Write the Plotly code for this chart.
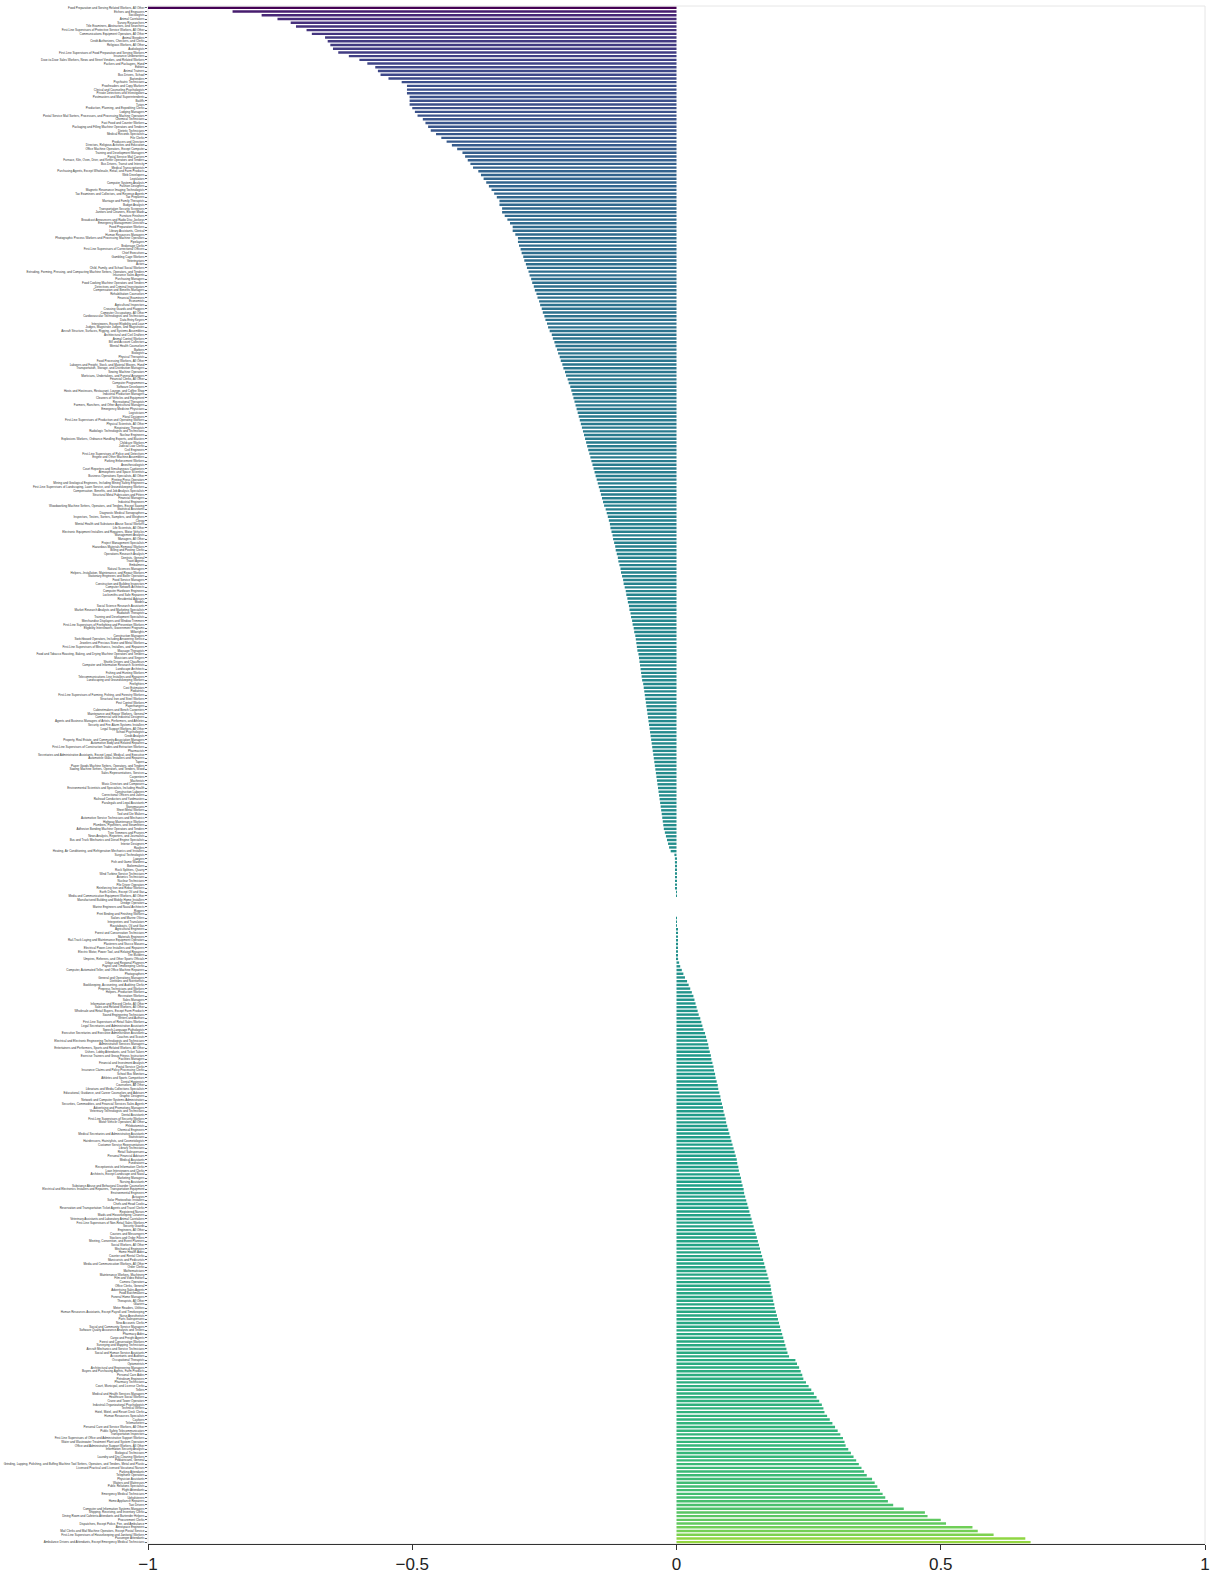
import plotly.graph_objects as go

occupations = [
    # block 1
    "Food Preparation and Serving Related Workers, All Other", "Etchers and Engravers", "Sociologists",
    "Animal Caretakers", "Survey Researchers", "Title Examiners, Abstractors, and Searchers",
    "First-Line Supervisors of Protective Service Workers, All Other", "Communications Equipment Operators, All Other",
    "Animal Breeders", "Credit Authorizers, Checkers, and Clerks", "Religious Workers, All Other", "Audiologists",
    "First-Line Supervisors of Food Preparation and Serving Workers", "Insurance Underwriters",
    "Door-to-Door Sales Workers, News and Street Vendors, and Related Workers", "Packers and Packagers, Hand",
    "Editors", "Animal Trainers", "Bus Drivers, School", "Bartenders", "Psychiatric Technicians",
    "Proofreaders and Copy Markers", "Clinical and Counseling Psychologists", "Private Detectives and Investigators",
    "Postmasters and Mail Superintendents", "Bailiffs", "Tutors", "Production, Planning, and Expediting Clerks",
    "Lodging Managers", "Postal Service Mail Sorters, Processors, and Processing Machine Operators",
    "Chemical Technicians", "Fast Food and Counter Workers", "Packaging and Filling Machine Operators and Tenders",
    "Dietetic Technicians",
    # block 2
    "Medical Records Specialists", "File Clerks", "Producers and Directors",
    "Directors, Religious Activities and Education", "Office Machine Operators, Except Computer",
    "Training and Development Managers", "Postal Service Mail Carriers",
    "Furnace, Kiln, Oven, Drier, and Kettle Operators and Tenders", "Bus Drivers, Transit and Intercity",
    "Medical Transcriptionists", "Purchasing Agents, Except Wholesale, Retail, and Farm Products",
    "Web Developers", "Legislators", "Computer Systems Analysts", "Fashion Designers",
    "Magnetic Resonance Imaging Technologists", "Tax Examiners and Collectors, and Revenue Agents",
    "Tax Preparers", "Marriage and Family Therapists", "Budget Analysts", "Transportation Security Screeners",
    "Janitors and Cleaners, Except Maids", "Furniture Finishers", "Broadcast Announcers and Radio Disc Jockeys",
    "Emergency Management Directors", "Food Preparation Workers", "Library Assistants, Clerical",
    "Human Resources Managers", "Photographic Process Workers and Processing Machine Operators",
    "Pipelayers", "Brokerage Clerks", "First-Line Supervisors of Correctional Officers", "Chief Executives",
    "Gambling Cage Workers",
    # block 3
    "Veterinarians", "Actors", "Child, Family, and School Social Workers",
    "Extruding, Forming, Pressing, and Compacting Machine Setters, Operators, and Tenders",
    "Insurance Sales Agents", "Purchasing Managers", "Food Cooking Machine Operators and Tenders",
    "Detectives and Criminal Investigators", "Compensation and Benefits Managers", "Rehabilitation Counselors",
    "Financial Examiners", "Economists", "Agricultural Inspectors", "Crossing Guards and Flaggers",
    "Computer Occupations, All Other", "Cardiovascular Technologists and Technicians", "Data Entry Keyers",
    "Interviewers, Except Eligibility and Loan", "Judges, Magistrate Judges, and Magistrates",
    "Aircraft Structure, Surfaces, Rigging, and Systems Assemblers", "Architectural and Civil Drafters",
    "Animal Control Workers", "Bill and Account Collectors", "Mental Health Counselors", "Barbers",
    "Biologists", "Physical Therapists", "Food Processing Workers, All Other",
    "Laborers and Freight, Stock, and Material Movers, Hand", "Transportation, Storage, and Distribution Managers",
    "Sewing Machine Operators", "Morticians, Undertakers, and Funeral Arrangers", "Financial Clerks, All Other",
    "Computer Programmers", "Software Developers",
    # block 4
    "Hosts and Hostesses, Restaurant, Lounge, and Coffee Shop", "Industrial Production Managers",
    "Cleaners of Vehicles and Equipment", "Recreational Therapists",
    "Farmers, Ranchers, and Other Agricultural Managers", "Emergency Medicine Physicians", "Logisticians",
    "Floral Designers", "First-Line Supervisors of Production and Operating Workers",
    "Physical Scientists, All Other", "Respiratory Therapists", "Radiologic Technologists and Technicians",
    "Nuclear Engineers", "Explosives Workers, Ordnance Handling Experts, and Blasters", "Childcare Workers",
    "Judicial Law Clerks", "Civil Engineers", "First-Line Supervisors of Police and Detectives",
    "Engine and Other Machine Assemblers", "Parking Enforcement Workers", "Anesthesiologists",
    "Court Reporters and Simultaneous Captioners", "Atmospheric and Space Scientists",
    "Business Operations Specialists, All Other", "Printing Press Operators",
    "Mining and Geological Engineers, Including Mining Safety Engineers",
    "First-Line Supervisors of Landscaping, Lawn Service, and Groundskeeping Workers",
    "Compensation, Benefits, and Job Analysis Specialists", "Structural Metal Fabricators and Fitters",
    "Financial Managers", "Industrial Engineers",
    "Woodworking Machine Setters, Operators, and Tenders, Except Sawing", "Statistical Assistants",
    "Diagnostic Medical Sonographers",
    # block 5
    "Inspectors, Testers, Sorters, Samplers, and Weighers", "Clergy",
    "Mental Health and Substance Abuse Social Workers", "Life Scientists, All Other",
    "Electronic Equipment Installers and Repairers, Motor Vehicles", "Management Analysts",
    "Managers, All Other", "Project Management Specialists", "Hazardous Materials Removal Workers",
    "Billing and Posting Clerks", "Operations Research Analysts", "Dentists, General", "Travel Agents",
    "Embalmers", "Natural Sciences Managers", "Helpers--Installation, Maintenance, and Repair Workers",
    "Stationary Engineers and Boiler Operators", "Food Service Managers",
    "Construction and Building Inspectors", "Computer Network Architects", "Computer Hardware Engineers",
    "Locksmiths and Safe Repairers", "Residential Advisors", "Models", "Social Science Research Assistants",
    "Market Research Analysts and Marketing Specialists", "Radiation Therapists",
    "Training and Development Specialists", "Merchandise Displayers and Window Trimmers",
    "First-Line Supervisors of Firefighting and Prevention Workers",
    "Eligibility Interviewers, Government Programs", "Millwrights", "Construction Managers",
    "Switchboard Operators, Including Answering Service", "Jewelers and Precious Stone and Metal Workers",
    # block 6
    "First-Line Supervisors of Mechanics, Installers, and Repairers", "Massage Therapists",
    "Food and Tobacco Roasting, Baking, and Drying Machine Operators and Tenders", "Musicians and Singers",
    "Shuttle Drivers and Chauffeurs", "Computer and Information Research Scientists", "Landscape Architects",
    "Fishing and Hunting Workers", "Telecommunications Line Installers and Repairers",
    "Landscaping and Groundskeeping Workers", "Firefighters", "Cost Estimators", "Podiatrists",
    "First-Line Supervisors of Farming, Fishing, and Forestry Workers", "Structural Iron and Steel Workers",
    "Pest Control Workers", "Paperhangers", "Cabinetmakers and Bench Carpenters",
    "Maintenance and Repair Workers, General", "Commercial and Industrial Designers",
    "Agents and Business Managers of Artists, Performers, and Athletes",
    "Security and Fire Alarm Systems Installers", "Legal Support Workers, All Other", "School Psychologists",
    "Credit Analysts", "Property, Real Estate, and Community Association Managers",
    "Automotive Body and Related Repairers",
    "First-Line Supervisors of Construction Trades and Extraction Workers", "Pharmacists",
    "Secretaries and Administrative Assistants, Except Legal, Medical, and Executive",
    "Automotive Glass Installers and Repairers", "Tapers", "Paper Goods Machine Setters, Operators, and Tenders",
    "Sawing Machine Setters, Operators, and Tenders, Wood", "Sales Representatives, Services",
    # block 7
    "Carpenters", "Machinists", "Music Directors and Composers",
    "Environmental Scientists and Specialists, Including Health", "Construction Laborers",
    "Correctional Officers and Jailers", "Railroad Conductors and Yardmasters", "Paralegals and Legal Assistants",
    "Stonemasons", "Sheet Metal Workers", "Tool and Die Makers", "Automotive Service Technicians and Mechanics",
    "Highway Maintenance Workers", "Plumbers, Pipefitters, and Steamfitters",
    "Adhesive Bonding Machine Operators and Tenders", "Tree Trimmers and Pruners",
    "News Analysts, Reporters, and Journalists", "Bus and Truck Mechanics and Diesel Engine Specialists",
    "Interior Designers", "Roofers", "Heating, Air Conditioning, and Refrigeration Mechanics and Installers",
    "Surgical Technologists", "Lawyers", "Fish and Game Wardens", "Boilermakers", "Rock Splitters, Quarry",
    "Wind Turbine Service Technicians", "Avionics Technicians", "Nuclear Technicians", "Pile Driver Operators",
    "Reinforcing Iron and Rebar Workers", "Earth Drillers, Except Oil and Gas",
    "Media and Communication Equipment Workers, All Other", "Manufactured Building and Mobile Home Installers",
    # block 8
    "Dredge Operators", "Marine Engineers and Naval Architects", "Riggers", "Print Binding and Finishing Workers",
    "Sailors and Marine Oilers", "Interpreters and Translators", "Roustabouts, Oil and Gas",
    "Agricultural Engineers", "Forest and Conservation Technicians", "Materials Engineers",
    "Rail-Track Laying and Maintenance Equipment Operators", "Plasterers and Stucco Masons",
    "Electrical Power-Line Installers and Repairers", "Electric Motor, Power Tool, and Related Repairers",
    "Tire Builders", "Umpires, Referees, and Other Sports Officials", "Urban and Regional Planners",
    "Payroll and Timekeeping Clerks", "Computer, Automated Teller, and Office Machine Repairers",
    "Photographers", "General and Operations Managers", "Dietitians and Nutritionists",
    "Bookkeeping, Accounting, and Auditing Clerks", "Prepress Technicians and Workers",
    "Helpers--Production Workers", "Recreation Workers", "Sales Managers",
    "Information and Record Clerks, All Other", "Sales and Related Workers, All Other",
    "Wholesale and Retail Buyers, Except Farm Products", "Sound Engineering Technicians", "Writers and Authors",
    "First-Line Supervisors of Retail Sales Workers", "Legal Secretaries and Administrative Assistants",
    "Speech-Language Pathologists",
    # block 9
    "Executive Secretaries and Executive Administrative Assistants", "Coaches and Scouts",
    "Electrical and Electronic Engineering Technologists and Technicians", "Administrative Services Managers",
    "Entertainers and Performers, Sports and Related Workers, All Other",
    "Ushers, Lobby Attendants, and Ticket Takers", "Exercise Trainers and Group Fitness Instructors",
    "Facilities Managers", "Financial and Investment Analysts", "Postal Service Clerks",
    "Insurance Claims and Policy Processing Clerks", "School Bus Monitors", "Athletes and Sports Competitors",
    "Dental Hygienists", "Counselors, All Other", "Librarians and Media Collections Specialists",
    "Educational, Guidance, and Career Counselors and Advisors", "Graphic Designers",
    "Network and Computer Systems Administrators",
    "Securities, Commodities, and Financial Services Sales Agents", "Advertising and Promotions Managers",
    "Veterinary Technologists and Technicians", "Dental Assistants", "First-Line Supervisors of Security Workers",
    "Motor Vehicle Operators, All Other", "Phlebotomists", "Chemical Engineers",
    "Medical Secretaries and Administrative Assistants", "Statisticians",
    "Hairdressers, Hairstylists, and Cosmetologists", "Customer Service Representatives", "Library Technicians",
    "Retail Salespersons", "Personal Financial Advisors",
    # block 10
    "Medical Assistants", "Fundraisers", "Receptionists and Information Clerks", "Loan Interviewers and Clerks",
    "Architects, Except Landscape and Naval", "Marketing Managers", "Nursing Assistants",
    "Substance Abuse and Behavioral Disorder Counselors",
    "Electrical and Electronics Installers and Repairers, Transportation Equipment", "Environmental Engineers",
    "Actuaries", "Solar Photovoltaic Installers", "Chefs and Head Cooks",
    "Reservation and Transportation Ticket Agents and Travel Clerks", "Registered Nurses",
    "Maids and Housekeeping Cleaners", "Veterinary Assistants and Laboratory Animal Caretakers",
    "First-Line Supervisors of Non-Retail Sales Workers", "Security Guards", "Engineers, All Other",
    "Couriers and Messengers", "Stockers and Order Fillers", "Meeting, Convention, and Event Planners",
    "Social Workers, All Other", "Mechanical Engineers", "Home Health Aides", "Counter and Rental Clerks",
    "Manicurists and Pedicurists", "Media and Communication Workers, All Other", "Order Clerks",
    "Mathematicians", "Maintenance Workers, Machinery", "Film and Video Editors", "Camera Operators",
    # block 11
    "Office Clerks, General", "Advertising Sales Agents", "Food Batchmakers", "Funeral Home Managers",
    "Therapists, All Other", "Glaziers", "Meter Readers, Utilities",
    "Human Resources Assistants, Except Payroll and Timekeeping", "Nurse Anesthetists", "Parts Salespersons",
    "New Accounts Clerks", "Social and Community Service Managers",
    "Software Quality Assurance Analysts and Testers", "Pharmacy Aides", "Cargo and Freight Agents",
    "Forest and Conservation Workers", "Surveying and Mapping Technicians",
    "Aircraft Mechanics and Service Technicians", "Social and Human Service Assistants",
    "Accountants and Auditors", "Occupational Therapists", "Optometrists",
    "Architectural and Engineering Managers", "Buyers and Purchasing Agents, Farm Products",
    "Personal Care Aides", "Petroleum Engineers", "Pharmacy Technicians",
    "Court, Municipal, and License Clerks", "Tellers", "Medical and Health Services Managers",
    "Healthcare Social Workers", "Crane and Tower Operators", "Industrial-Organizational Psychologists",
    "Technical Writers", "Hotel, Motel, and Resort Desk Clerks",
    # block 12
    "Human Resources Specialists", "Cashiers", "Telemarketers", "Personal Care and Service Workers, All Other",
    "Public Safety Telecommunicators", "Transportation Inspectors",
    "First-Line Supervisors of Office and Administrative Support Workers",
    "Water and Wastewater Treatment Plant and System Operators",
    "Office and Administrative Support Workers, All Other", "Information Security Analysts",
    "Biological Technicians", "Laundry and Dry-Cleaning Workers", "Pediatricians, General",
    "Grinding, Lapping, Polishing, and Buffing Machine Tool Setters, Operators, and Tenders, Metal and Plastic",
    "Licensed Practical and Licensed Vocational Nurses", "Parking Attendants", "Telephone Operators",
    "Physician Assistants", "Waiters and Waitresses", "Public Relations Specialists", "Flight Attendants",
    "Emergency Medical Technicians", "Upholsterers", "Home Appliance Repairers", "Taxi Drivers",
    "Computer and Information Systems Managers", "Shipping, Receiving, and Inventory Clerks",
    "Dining Room and Cafeteria Attendants and Bartender Helpers", "Procurement Clerks",
    "Dispatchers, Except Police, Fire, and Ambulance", "Aerospace Engineers",
    "Mail Clerks and Mail Machine Operators, Except Postal Service",
    "First-Line Supervisors of Housekeeping and Janitorial Workers", "Passenger Attendants",
    "Ambulance Drivers and Attendants, Except Emergency Medical Technicians",
]

change = [
    # block 1
    -1.00, -0.84, -0.785, -0.755, -0.73, -0.72, -0.70, -0.69, -0.665, -0.66, -0.655, -0.65, -0.64, -0.62,
    -0.60, -0.585, -0.57, -0.565, -0.56, -0.545, -0.52, -0.51, -0.51, -0.51, -0.505, -0.505, -0.505, -0.50,
    -0.495, -0.49, -0.48, -0.475, -0.47, -0.465,
    # block 2
    -0.455, -0.445, -0.435, -0.425, -0.415, -0.405, -0.40, -0.395, -0.39, -0.385, -0.375, -0.37, -0.365,
    -0.36, -0.355, -0.35, -0.345, -0.34, -0.335, -0.335, -0.33, -0.33, -0.325, -0.32, -0.315, -0.31,
    -0.31, -0.305, -0.30, -0.30, -0.298, -0.295, -0.293, -0.29,
    # block 3
    -0.288, -0.285, -0.283, -0.28, -0.278, -0.275, -0.273, -0.27, -0.268, -0.265, -0.263, -0.26, -0.258,
    -0.255, -0.253, -0.25, -0.248, -0.245, -0.243, -0.24, -0.236, -0.234, -0.231, -0.229, -0.226, -0.224,
    -0.221, -0.219, -0.216, -0.214, -0.211, -0.209, -0.206, -0.204, -0.201,
    # block 4
    -0.199, -0.197, -0.195, -0.193, -0.191, -0.189, -0.187, -0.185, -0.183, -0.181, -0.179, -0.177, -0.175,
    -0.173, -0.171, -0.169, -0.167, -0.165, -0.163, -0.161, -0.159, -0.157, -0.155, -0.153, -0.151, -0.149,
    -0.147, -0.145, -0.143, -0.141, -0.139, -0.137, -0.134, -0.132,
    # block 5
    -0.130, -0.128, -0.126, -0.125, -0.123, -0.121, -0.12, -0.118, -0.116, -0.115, -0.113, -0.111, -0.11,
    -0.108, -0.106, -0.105, -0.103, -0.101, -0.10, -0.098, -0.096, -0.095, -0.093, -0.092, -0.09, -0.089,
    -0.087, -0.086, -0.084, -0.083, -0.081, -0.08, -0.078, -0.077, -0.076,
    # block 6
    -0.075, -0.074, -0.072, -0.071, -0.07, -0.069, -0.068, -0.067, -0.066, -0.065, -0.063, -0.062, -0.061,
    -0.06, -0.059, -0.058, -0.057, -0.056, -0.055, -0.054, -0.053, -0.052, -0.051, -0.05, -0.049, -0.048,
    -0.047, -0.046, -0.045, -0.044, -0.043, -0.042, -0.041, -0.04, -0.039,
    # block 7
    -0.038, -0.037, -0.036, -0.035, -0.034, -0.033, -0.032, -0.031, -0.03, -0.029, -0.028, -0.027, -0.026,
    -0.025, -0.024, -0.022, -0.02, -0.018, -0.016, -0.014, -0.011, -0.004, -0.003, -0.003, -0.002, -0.002,
    -0.002, -0.001, -0.001, -0.001, -0.001, -0.0005, -0.0005, 0.0,
    # block 8
    0.0, 0.0, 0.0, 0.0, 0.0005, 0.0005, 0.0005, 0.001, 0.001, 0.001, 0.001, 0.0015, 0.0015, 0.002,
    0.002, 0.003, 0.005, 0.007, 0.01, 0.013, 0.016, 0.02, 0.023, 0.026, 0.029, 0.032, 0.034, 0.036, 0.038,
    0.04, 0.042, 0.045, 0.047, 0.049, 0.051,
    # block 9
    0.054, 0.056, 0.058, 0.06, 0.061, 0.063, 0.065, 0.066, 0.068, 0.07, 0.071, 0.073, 0.074, 0.076, 0.078,
    0.079, 0.081, 0.083, 0.084, 0.086, 0.088, 0.089, 0.091, 0.093, 0.094, 0.096, 0.098, 0.10, 0.102,
    0.104, 0.106, 0.108, 0.11, 0.112,
    # block 10
    0.114, 0.115, 0.117, 0.118, 0.12, 0.122, 0.123, 0.125, 0.127, 0.128, 0.13, 0.132, 0.134, 0.136, 0.138,
    0.14, 0.142, 0.144, 0.146, 0.148, 0.15, 0.152, 0.154, 0.156, 0.158, 0.16, 0.162, 0.164, 0.166, 0.168,
    0.17, 0.172, 0.174, 0.176,
    # block 11
    0.178, 0.179, 0.18, 0.182, 0.183, 0.185, 0.186, 0.188, 0.19, 0.192, 0.194, 0.196, 0.198, 0.20, 0.202,
    0.204, 0.206, 0.208, 0.21, 0.213, 0.225, 0.228, 0.232, 0.235, 0.238, 0.24, 0.245, 0.25, 0.255, 0.26,
    0.265, 0.27, 0.275, 0.278, 0.28,
    # block 12
    0.285, 0.29, 0.295, 0.30, 0.305, 0.31, 0.315, 0.318, 0.32, 0.325, 0.33, 0.335, 0.34, 0.345, 0.35,
    0.355, 0.36, 0.37, 0.375, 0.38, 0.385, 0.39, 0.395, 0.40, 0.41, 0.43, 0.47, 0.475, 0.50, 0.51, 0.56,
    0.57, 0.60, 0.66, 0.67,
]

x_tick_vals = [-1, -0.5, 0, 0.5, 1]
x_tick_text = ["\u22121", "\u22120.5", "0", "0.5", "1"]

n = min(len(occupations), len(change))
occupations = occupations[:n]
change = change[:n]

fig = go.Figure(
    go.Bar(
        x=change,
        y=occupations,
        orientation="h",
        marker=dict(color=change, colorscale="Viridis", cmin=-1, cmax=1, line=dict(width=0)),
    )
)

fig.update_layout(
    width=1218,
    height=1577,
    margin=dict(l=148, r=13, t=6, b=33, autoexpand=False),
    plot_bgcolor="white",
    paper_bgcolor="white",
    bargap=0.35,
    showlegend=False,
    font=dict(family="Arial, Liberation Sans, sans-serif", color="#222"),
    shapes=[
        dict(type="rect", xref="paper", yref="paper", x0=0, x1=1, y0=0, y1=1,
             line=dict(color="#e6e6e6", width=1), layer="below"),
    ],
)
fig.update_xaxes(
    range=[-1, 1],
    tickvals=x_tick_vals,
    ticktext=x_tick_text,
    ticks="outside",
    ticklen=5,
    tickcolor="#333",
    showline=True,
    linecolor="#333",
    linewidth=1,
    showgrid=False,
    zeroline=False,
    automargin=False,
    tickfont=dict(size=17, color="#222"),
)
fig.update_yaxes(
    type="category",
    autorange="reversed",
    tickmode="linear",
    dtick=1,
    ticks="outside",
    ticklen=2,
    tickwidth=0.5,
    tickcolor="#666",
    showgrid=False,
    showline=False,
    automargin=False,
    tickfont=dict(size=3.0, color="#333"),
)

fig.write_html(
    "out.html",
    config={"displayModeBar": False},
    post_script="document.body.style.margin='0';document.documentElement.style.overflow='hidden';",
)
